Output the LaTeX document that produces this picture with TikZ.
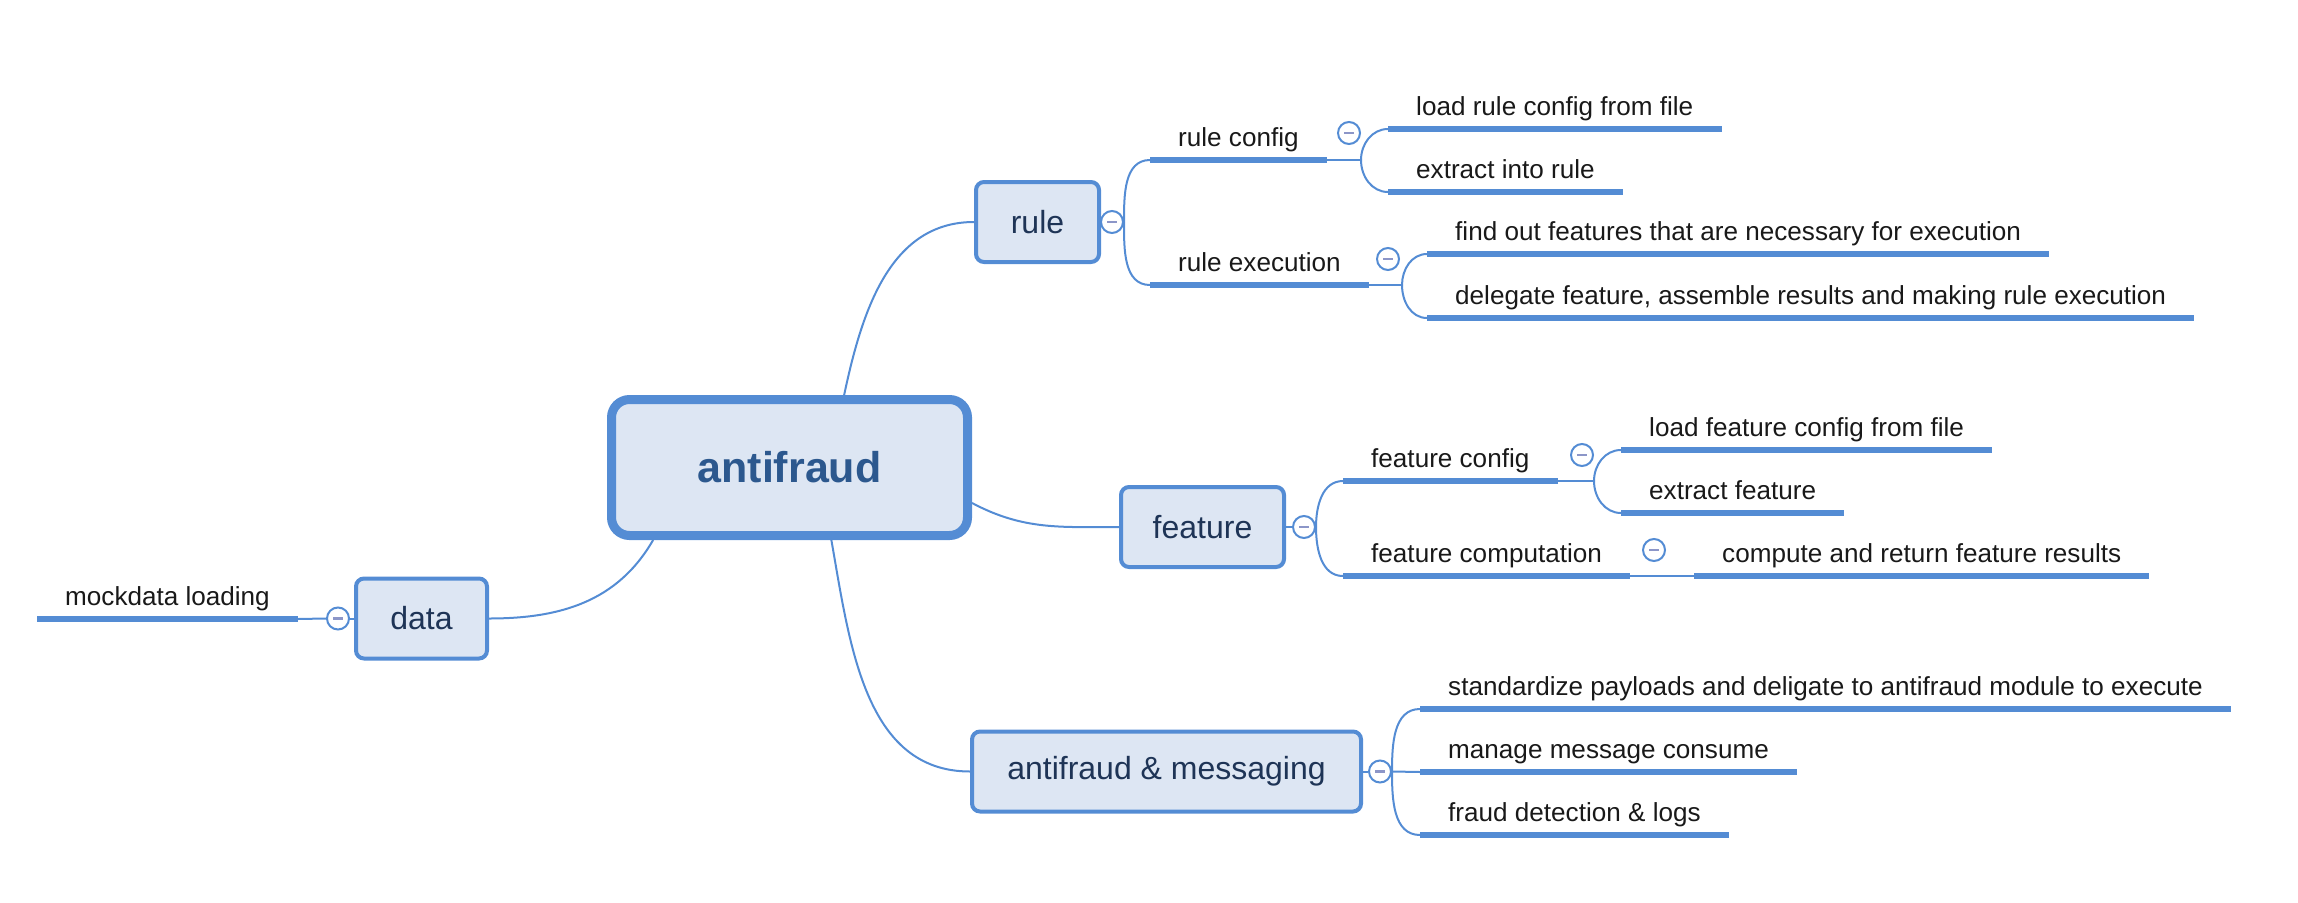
\documentclass[tikz,border=0pt]{standalone}
\usepackage{fontspec}
\setmainfont{Liberation Sans}
\usetikzlibrary{positioning,backgrounds}

\definecolor{mapblue}{RGB}{84,140,212}
\definecolor{mapfill}{RGB}{221,230,243}
\definecolor{mapnavy}{RGB}{30,52,86}
\definecolor{rootnavy}{RGB}{44,88,142}
\definecolor{foldbar}{RGB}{140,150,200}

\tikzset{
  mainbox/.style={rectangle,rounded corners=8pt,draw=mapblue,fill=mapfill,line width=4pt,
    minimum height=80pt,inner xsep=0pt,text=mapnavy,font=\fontsize{32}{36}\selectfont},
  rootbox/.style={mainbox,rounded corners=18pt,line width=9pt,minimum width=356pt,
    minimum height=136pt,text=rootnavy,font=\fontsize{43}{48}\selectfont\bfseries},
  topic/.style={anchor=south west,inner xsep=28pt,inner ysep=7pt,text height=19pt,text depth=6.5pt,
    text=black!90,font=\fontsize{26.1}{30}\selectfont,
    append after command={(\tikzlastnode.south west) edge[mapblue,line width=6pt] (\tikzlastnode.south east)}},
  fold/.style={circle,draw=mapblue,fill=white,line width=2pt,minimum size=22pt,inner sep=0pt,
    path picture={\draw[foldbar,line width=2.5pt] ([xshift=-5pt]path picture bounding box.center)
      -- ([xshift=5pt]path picture bounding box.center);}},
  link/.style={mapblue,line width=2pt}
}

\begin{document}
\begin{tikzpicture}[x=1pt,y=1pt]
  \useasboundingbox (4,-2) rectangle (2302,-904);

  % main boxes
  \node[rootbox] (root) at (793.5,-469.5) {antifraud};
  \node[mainbox,minimum width=123pt] (rule) at (1041.5,-224) {rule};
  \node[mainbox,minimum width=131pt] (data) at (425.5,-620.5) {data};
  \node[mainbox,minimum width=163pt] (feature) at (1206.5,-529) {feature};
  \node[mainbox,minimum width=389pt] (msg) at (1170.5,-773.5) {antifraud \& messaging};

  % fold buttons
  \node[fold] (rulefold) at (1116,-224) {};
  \node[fold] (datafold) at (342,-620.5) {};
  \node[fold] (featfold) at (1308,-529) {};
  \node[fold] (msgfold) at (1384,-773.5) {};
  \node[fold] (rcfgfold) at (1353,-135) {};
  \node[fold] (rexecfold) at (1392,-261) {};
  \node[fold] (fcfgfold) at (1586,-457) {};
  \node[fold] (fcompfold) at (1658,-552) {};

  % topics
  \node[topic] (mock) at (41,-621) {mockdata loading};
  \node[topic] (rcfg) at (1154,-162) {rule config};
  \node[topic] (rexec) at (1154,-287) {rule execution};
  \node[topic] (loadrule) at (1392,-131) {load rule config from file};
  \node[topic] (extrule) at (1392,-194) {extract into rule};
  \node[topic] (findfeat) at (1431,-256) {find out features that are necessary for execution};
  \node[topic] (delegate) at (1431,-320) {delegate feature, assemble results and making rule execution};
  \node[topic] (fcfg) at (1347,-483) {feature config};
  \node[topic] (fcomp) at (1347,-578) {feature computation};
  \node[topic] (loadfeat) at (1625,-452) {load feature config from file};
  \node[topic] (extfeat) at (1625,-515) {extract feature};
  \node[topic] (compute) at (1698,-578) {compute and return feature results};
  \node[topic] (standard) at (1424,-711) {standardize payloads and deligate to antifraud module to execute};
  \node[topic] (manage) at (1424,-774) {manage message consume};
  \node[topic] (logs) at (1424,-837) {fraud detection \& logs};

  \coordinate (rcfgfork) at (1365,-162);
  \coordinate (rexecfork) at (1406,-287);
  \coordinate (fcfgfork) at (1598,-483);

  \begin{pgfonlayer}{background}
    % root to main boxes
    \draw[link] (root.53) to[out=78,in=180] (rule.west);
    \draw[link] (root.208) to[out=-120,in=0] (data.east);
    \draw[link] (root.-11) to[out=-28,in=180] (feature.west);
    \draw[link] (root.-60) to[out=-80,in=180] (msg.west);
    % boxes to folds
    \draw[link] (rule.east) -- (rulefold.west);
    \draw[link] (data.west) -- (datafold.east);
    \draw[link] (feature.east) -- (featfold.west);
    \draw[link] (msg.east) -- (msgfold.west);
    \draw[link] (datafold.west) -- (mock.south east);
    % rule
    \draw[link] (rulefold.east) to[out=90,in=180] (rcfg.south west);
    \draw[link] (rulefold.east) to[out=-90,in=180] (rexec.south west);
    \draw[link] (rcfg.south east) -- (rcfgfork);
    \draw[link] (rcfgfork) to[out=90,in=180] (loadrule.south west);
    \draw[link] (rcfgfork) to[out=-90,in=180] (extrule.south west);
    \draw[link] (rexec.south east) -- (rexecfork);
    \draw[link] (rexecfork) to[out=90,in=180] (findfeat.south west);
    \draw[link] (rexecfork) to[out=-90,in=180] (delegate.south west);
    % feature
    \draw[link] (featfold.east) to[out=90,in=180] (fcfg.south west);
    \draw[link] (featfold.east) to[out=-90,in=180] (fcomp.south west);
    \draw[link] (fcfg.south east) -- (fcfgfork);
    \draw[link] (fcfgfork) to[out=90,in=180] (loadfeat.south west);
    \draw[link] (fcfgfork) to[out=-90,in=180] (extfeat.south west);
    \draw[link] (fcomp.south east) -- (compute.south west);
    % messaging
    \draw[link] (msgfold.east) to[out=90,in=180] (standard.south west);
    \draw[link] (msgfold.east) -- (manage.south west);
    \draw[link] (msgfold.east) to[out=-90,in=180] (logs.south west);
  \end{pgfonlayer}
\end{tikzpicture}
\end{document}
